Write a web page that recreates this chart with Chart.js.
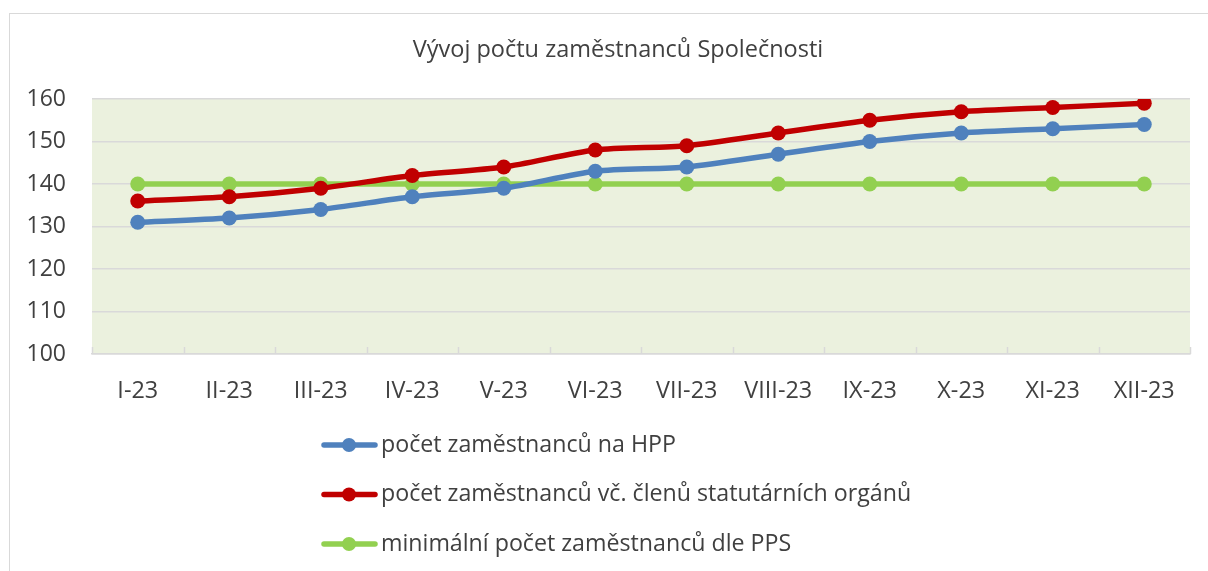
<!DOCTYPE html>
<html>
<head>
<meta charset="utf-8">
<script src="https://cdn.jsdelivr.net/npm/chart.js@4.4.1/dist/chart.umd.min.js"></script>
<style>
  html, body { margin: 0; padding: 0; background: #fff; }
  #wrap { position: relative; width: 1208px; height: 571px; overflow: hidden; }
  #frame { position: absolute; left: 9px; top: 13px; width: 1300px; height: 700px; border: 1.5px solid #d9d9d9; }
  canvas { position: absolute; left: 0; top: 0; }
</style>
</head>
<body>
<div id="wrap">
  <div id="frame"></div>
  <canvas id="chart-employees" width="1208" height="571"></canvas>
</div>
<script>
// Data
const chartTitle = "Vývoj počtu zaměstnanců Společnosti";
const months = ["I-23", "II-23", "III-23", "IV-23", "V-23", "VI-23", "VII-23", "VIII-23", "IX-23", "X-23", "XI-23", "XII-23"];
const hpp = [131, 132, 134, 137, 139, 143, 144, 147, 150, 152, 153, 154];
const withBoard = [136, 137, 139, 142, 144, 148, 149, 152, 155, 157, 158, 159];
const minimum = [140, 140, 140, 140, 140, 140, 140, 140, 140, 140, 140, 140];
const seriesNames = [
    "počet zaměstnanců na HPP",
    "počet zaměstnanců vč. členů statutárních orgánů",
    "minimální počet zaměstnanců dle PPS",
];
const yTicks = [100, 110, 120, 130, 140, 150, 160];

const textColor = "#404040";
const fontFamily = "'Open Sans', sans-serif";

// plot background, title, inward x ticks, vertical legend
const decorations = {
    id: "decorations",
    beforeDraw(chart) {
        const { ctx, chartArea: a } = chart;
        ctx.save();
        ctx.fillStyle = "#ebf1de";
        ctx.fillRect(a.left, a.top, a.right - a.left, a.bottom - a.top);
        ctx.restore();
    },
    afterDraw(chart) {
        const { ctx, chartArea: a } = chart;
        const x = chart.scales.x;
        ctx.save();
        // title
        ctx.fillStyle = textColor;
        ctx.font = "23.5px " + fontFamily;
        ctx.textAlign = "center";
        ctx.textBaseline = "middle";
        ctx.fillText(chartTitle, 618, 50);
        // small tick marks between categories
        ctx.strokeStyle = "#d9d9d9";
        ctx.lineWidth = 1.5;
        for (let i = 0; i <= months.length; i++) {
            const px = Math.round(x.getPixelForValue(i - 0.5)) + 0.5;
            ctx.beginPath();
            ctx.moveTo(px, a.bottom);
            ctx.lineTo(px, a.bottom - 7);
            ctx.stroke();
        }
        // legend
        const lx = 322, ly = 445, gap = 49.5;
        ctx.font = "23.2px " + fontFamily;
        ctx.textAlign = "left";
        chart.data.datasets.forEach((ds, i) => {
            const y = ly + i * gap;
            ctx.strokeStyle = ds.borderColor;
            ctx.lineWidth = 5.5;
            ctx.lineCap = "round";
            ctx.beginPath();
            ctx.moveTo(lx + 2, y);
            ctx.lineTo(lx + 53, y);
            ctx.stroke();
            ctx.fillStyle = ds.borderColor;
            ctx.beginPath();
            ctx.arc(lx + 27, y, 7, 0, Math.PI * 2);
            ctx.fill();
            ctx.fillStyle = textColor;
            ctx.fillText(ds.label, lx + 59, y);
        });
        ctx.restore();
    },
};

function lineSet(label, data, color) {
    return {
        label: label,
        data: data,
        borderColor: color,
        backgroundColor: color,
        borderWidth: 5.5,
        pointRadius: 7.5,
        pointHoverRadius: 7.5,
        pointBorderWidth: 0,
        tension: 0.25,
        fill: false,
    };
}

const employees = document.getElementById("chart-employees");

new Chart(employees, {
    type: "line",
    data: {
        labels: months,
        datasets: [
            lineSet(seriesNames[0], hpp, "#4f81bd"),
            lineSet(seriesNames[1], withBoard, "#c00000"),
            lineSet(seriesNames[2], minimum, "#92d050"),
        ],
    },
    options: {
        responsive: false,
        animation: false,
        layout: {
            padding: { top: 99, left: 0, right: 18, bottom: 167 },
        },
        scales: {
            x: {
                offset: true,
                grid: { display: false, offset: true },
                border: { display: true, color: "#d9d9d9", width: 1.5 },
                ticks: { color: textColor, font: { family: fontFamily, size: 23.4 }, padding: 15, maxRotation: 0 },
                afterFit(scale) { scale.height = 50; },
            },
            y: {
                min: 100,
                max: 160,
                afterBuildTicks(scale) { scale.ticks = yTicks.map((v) => ({ value: v })); },
                grid: { color: "#d9d9d9", lineWidth: 1.5, drawTicks: false },
                border: { display: false },
                ticks: { color: textColor, font: { family: fontFamily, size: 23 }, padding: 26 },
                afterFit(scale) { scale.width = 92; },
            },
        },
        plugins: {
            title: { display: false },
            legend: { display: false },
            tooltip: { enabled: false },
        },
    },
    plugins: [decorations],
});
</script>
</body>
</html>
